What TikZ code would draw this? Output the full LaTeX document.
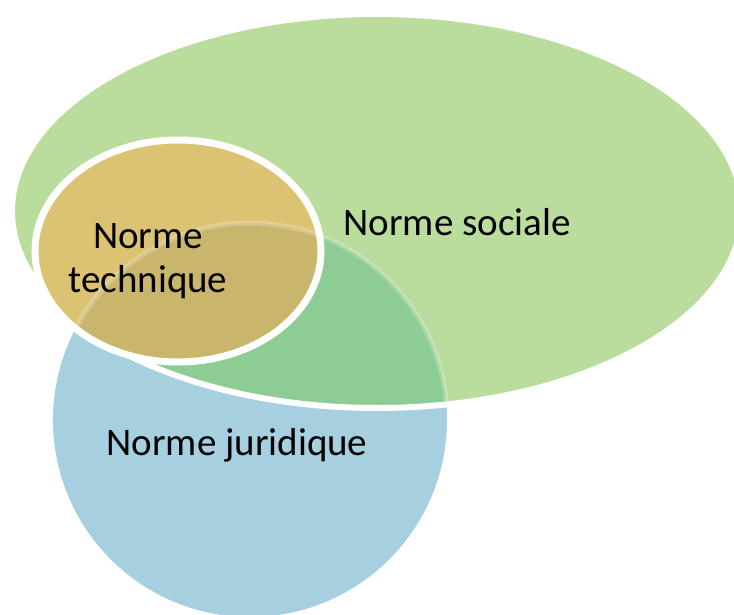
\documentclass[tikz,border=0pt]{standalone}
\usepackage{fontspec}
\setmainfont{Carlito}
\definecolor{socgreen}{HTML}{BADC9D}
\definecolor{mixgreen}{HTML}{8DCC94}
\definecolor{jurblue}{HTML}{A6CFDF}
\definecolor{techgold}{HTML}{DCC273}
\definecolor{techdark}{HTML}{C9B66C}
\tikzset{
  lbl/.style={font=\fontsize{39}{44}\selectfont, text=black, inner sep=0pt, anchor=base},
  faintedge/.style={white, opacity=0.22, line width=5pt},
}
\begin{document}
\begin{tikzpicture}[x=1pt,y=-1pt]
\useasboundingbox (0,0) rectangle (734,615);
\def\jur{(250,420) circle[radius=197pt]}
\def\soc{(377,211) ellipse[x radius=365pt, y radius=197pt]}
\def\tech{(178,251) ellipse[x radius=143pt, y radius=111pt]}
% juridique circle
\fill[jurblue] \jur;
% sociale ellipse
\fill[socgreen] \soc;
\begin{scope}
  \clip \soc;
  \fill[mixgreen] \jur;
  \draw[faintedge] \jur;
\end{scope}
\draw[white, line width=6pt] \soc;
% technique ellipse
\fill[techgold] \tech;
\begin{scope}
  \clip \tech;
  \fill[techdark] \jur;
  \draw[faintedge] \jur;
\end{scope}
\draw[white, line width=7pt] \tech;
% labels
\node[lbl] (soc) at (457,235) {Norme sociale};
\node[lbl] (jur) at (237,455) {Norme juridique};
\node[lbl] (tech1) at (148,248) {Norme};
\node[lbl] (tech2) at (148,292) {technique};
\end{tikzpicture}
\end{document}
